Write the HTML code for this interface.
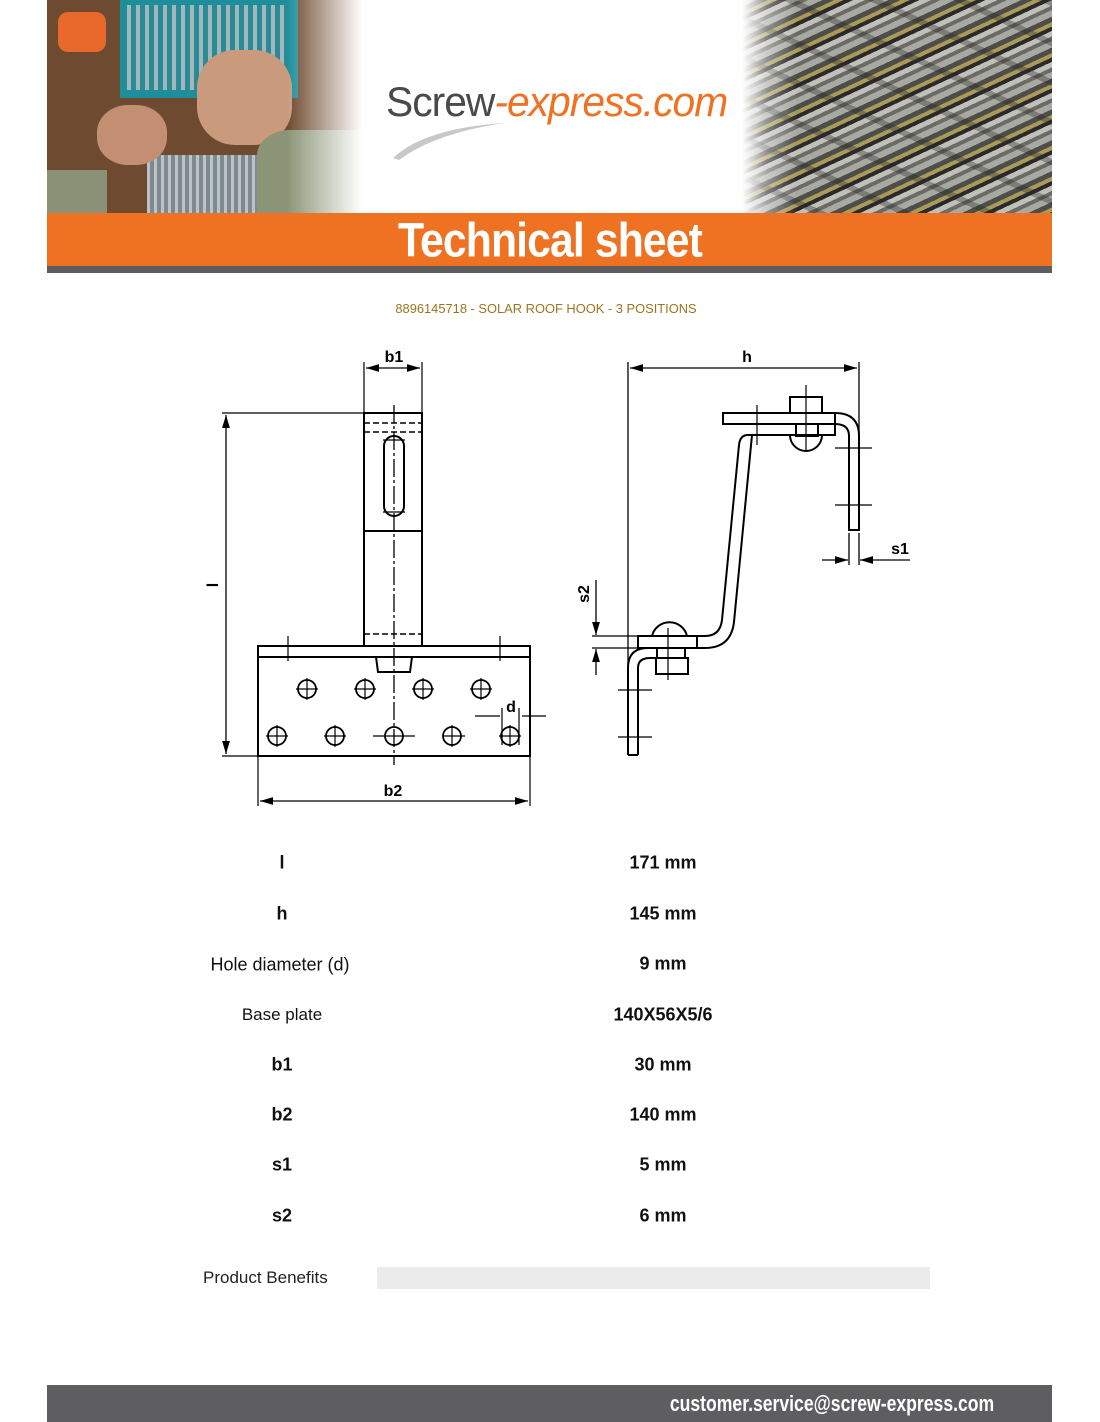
<!DOCTYPE html>
<html><head><meta charset="utf-8"><style>
*{margin:0;padding:0;box-sizing:border-box}
body{width:1100px;height:1422px;background:#fff;position:relative;overflow:hidden;font-family:"Liberation Sans",sans-serif}
.abs{position:absolute}
.row{position:absolute;font-size:18px;color:#111;transform:translate(-50%,-50%);white-space:nowrap}
.b{font-weight:bold}
</style></head><body>
<!-- left photo -->
<div class="abs" style="left:47px;top:0;width:320px;height:213px;background:#6e4a30;overflow:hidden">
 <div class="abs" style="left:73px;top:0;width:178px;height:98px;background:#1e8e9a"></div>
 <div class="abs" style="left:80px;top:5px;width:160px;height:85px;background:repeating-linear-gradient(90deg,#9fb8bd 0 4px,#2c8a95 4px 9px)"></div>
 <div class="abs" style="left:11px;top:12px;width:48px;height:40px;background:#e8692a;border-radius:10px"></div>
 <div class="abs" style="left:100px;top:155px;width:130px;height:58px;background:repeating-linear-gradient(90deg,#b9c3c8 0 3px,#7f8a90 3px 7px)"></div>
 <div class="abs" style="left:150px;top:50px;width:95px;height:95px;background:#c99a7c;border-radius:40%"></div>
 <div class="abs" style="left:50px;top:105px;width:70px;height:60px;background:#c38f72;border-radius:45%"></div>
 <div class="abs" style="left:210px;top:130px;width:110px;height:85px;background:#8c9478;border-radius:30% 0 0 0"></div>
 <div class="abs" style="left:0;top:170px;width:60px;height:43px;background:#8a9176"></div>
 <div class="abs" style="left:0;top:0;width:320px;height:213px;background:linear-gradient(90deg,rgba(255,255,255,0) 0,rgba(255,255,255,0) 240px,#fff 315px)"></div>
</div>
<!-- right photo -->
<div class="abs" style="left:742px;top:0;width:310px;height:213px;overflow:hidden;background:repeating-linear-gradient(155deg,#a9a9a4 0 6px,#4d4d4a 6px 11px,#a99a5a 11px 15px,#2a2a2a 15px 19px,#c0bfb8 19px 24px,#6a6a66 24px 28px)">
 <div class="abs" style="left:0;top:0;width:310px;height:213px;background:repeating-linear-gradient(25deg,rgba(40,40,40,0) 0 30px,rgba(40,40,40,0.35) 30px 36px)"></div>
 <div class="abs" style="left:0;top:0;width:310px;height:213px;background:linear-gradient(90deg,#fff 0,rgba(255,255,255,0.4) 25px,rgba(255,255,255,0) 55px)"></div>
</div>
<!-- logo -->
<div class="abs" style="left:386px;top:78px;font-size:42px;letter-spacing:-1px;white-space:nowrap;transform:scaleX(0.97);transform-origin:left"><span style="color:#4a4a4a">Screw</span><span style="color:#ee7222;font-style:italic">-express.com</span></div>
<svg class="abs" style="left:385px;top:118px" width="140" height="45"><path d="M8 40 Q40 10 120 5 Q50 15 14 42Z" fill="#c8c8c8"/></svg>
<!-- orange band -->
<div class="abs" style="left:47px;top:213px;width:1005px;height:54px;background:#ee7222"></div>
<div class="abs" style="left:47px;top:266px;width:1005px;height:7px;background:#5d5d5d"></div>
<div class="abs" style="left:550px;top:241px;transform:translate(-50%,-50%) scaleX(0.89);color:#fff;font-weight:bold;font-size:48px;white-space:nowrap;letter-spacing:-1px">Technical sheet</div>
<div class="abs" style="left:546px;top:309px;transform:translate(-50%,-50%) scaleX(1.03);color:#9c7420;font-size:12.5px;white-space:nowrap">8896145718 - SOLAR ROOF HOOK - 3 POSITIONS</div>
<!-- drawing -->
<svg class="abs" style="left:0;top:0" width="1100" height="1422">
<defs><marker id="a" viewBox="0 0 10 6" refX="10" refY="3" markerWidth="10" markerHeight="6" orient="auto-start-reverse"><path d="M0 0L10 3L0 6Z" fill="#000"/></marker></defs>
<g stroke="#000" fill="none" stroke-width="2">
 <rect x="364" y="413" width="58" height="233"/>
 <line x1="364" y1="531" x2="422" y2="531"/>
 <rect x="384" y="436" width="20" height="80" rx="10"/>
 <rect x="258" y="646" width="272" height="110"/>
 <line x1="258" y1="657" x2="530" y2="657"/>
 <path d="M376 657 L378 672 L410 672 L412 657"/>
</g>
<g stroke="#000" fill="none" stroke-width="1.5" stroke-dasharray="6 3">
 <line x1="364" y1="423" x2="422" y2="423"/><line x1="364" y1="432" x2="422" y2="432"/><line x1="364" y1="634" x2="422" y2="634"/>
</g>
<g stroke="#000" fill="none" stroke-width="1.3" stroke-dasharray="18 3 3 3">
 <line x1="394" y1="405" x2="394" y2="765"/>
</g>
<g stroke="#000" fill="none" stroke-width="1.8">
 <circle cx="307" cy="689" r="9"/><circle cx="365" cy="689" r="9"/><circle cx="423" cy="689" r="9"/><circle cx="481" cy="689" r="9"/>
 <circle cx="277" cy="736" r="9"/><circle cx="335" cy="736" r="9"/><circle cx="394" cy="736" r="9"/><circle cx="452" cy="736" r="9"/><circle cx="510" cy="736" r="9"/>
</g>
<g stroke="#000" stroke-width="1.2">
 <path d="M296 689h22M307 678v22M354 689h22M365 678v22M412 689h22M423 678v22M470 689h22M481 678v22"/>
 <path d="M266 736h22M277 725v22M324 736h22M335 725v22M373 736h42M443 736h22M452 725v22M499 736h22M510 725v22"/>
 <path d="M288 636v25M500 636v25M383 440h22M383 512h22"/>
 <path d="M364 362V413M422 362V413M222 413H364M222 756H258M258 756V806M530 756V806"/>
 <path d="M502 708V745M519 708V745M546 716H522M475 716H500"/>
</g>
<g stroke="#000" stroke-width="1.3" fill="none">
 <line x1="366" y1="368" x2="420" y2="368" marker-start="url(#a)" marker-end="url(#a)"/>
 <line x1="226" y1="415" x2="226" y2="754" marker-start="url(#a)" marker-end="url(#a)"/>
 <line x1="260" y1="801" x2="528" y2="801" marker-start="url(#a)" marker-end="url(#a)"/>
 <line x1="630" y1="368" x2="857" y2="368" marker-start="url(#a)" marker-end="url(#a)"/>
 <line x1="822" y1="560" x2="848" y2="560" marker-end="url(#a)"/>
 <line x1="910" y1="560" x2="860" y2="560" marker-end="url(#a)"/>
 <line x1="596" y1="580" x2="596" y2="635" marker-end="url(#a)"/>
 <line x1="596" y1="675" x2="596" y2="649" marker-end="url(#a)"/>
 <path d="M628 362V755M859 362V440M849 533V565M859 533V565M592 636H640M592 648H640"/>
</g>
<g stroke="#000" stroke-width="2" fill="none">
 <rect x="723" y="413" width="112" height="11"/>
 <path d="M835 413 Q859 413 859 436 V530 H849 V436 Q849 424 835 424"/>
 <path d="M835 424 V435 H748 Q740 435 739 445 L722 620 Q720 636 705 636 H640"/>
 <path d="M752 435 L734 622 Q731 648 705 648 H640"/>
 <rect x="638" y="636" width="59" height="12"/>
 <path d="M628 755 V668 Q628 648 648 648 M638 755 V668 Q638 658 650 658 H655 M628 755 H638"/>
 <rect x="790" y="397" width="32" height="16"/>
 <path d="M790 435 A16 16 0 0 0 822 435"/>
 <rect x="796" y="424" width="22" height="12"/>
 <path d="M652 636 A18 18 0 0 1 687 636"/>
 <rect x="657" y="648" width="28" height="10"/>
 <rect x="656" y="658" width="32" height="16"/>
</g>
<g stroke="#000" stroke-width="1.2">
 <path d="M806 385V452M668 628V680M757 405V445M835 448H872M835 505H872M618 690H652M618 737H652"/>
</g>
<g font-family="Liberation Sans,sans-serif" font-weight="bold" font-size="16" fill="#000" text-anchor="middle">
 <text x="394" y="362">b1</text>
 <text x="393" y="796">b2</text>
 <text x="511" y="712">d</text>
 <text x="747" y="362">h</text>
 <text x="900" y="554">s1</text>
 <text x="218" y="585" transform="rotate(-90 218 585)">l</text>
 <text x="589" y="594" transform="rotate(-90 589 594)">s2</text>
</g>
</svg>
<!-- table -->
<div class="row b" style="left:282px;top:863px">l</div><div class="row b" style="left:663px;top:863px">171 mm</div>
<div class="row b" style="left:282px;top:914px">h</div><div class="row b" style="left:663px;top:914px">145 mm</div>
<div class="row" style="left:280px;top:965px">Hole diameter (d)</div><div class="row b" style="left:663px;top:964px">9 mm</div>
<div class="row" style="left:282px;top:1015px;font-size:17px">Base plate</div><div class="row b" style="left:663px;top:1015px">140X56X5/6</div>
<div class="row b" style="left:282px;top:1065px">b1</div><div class="row b" style="left:663px;top:1065px">30 mm</div>
<div class="row b" style="left:282px;top:1115px">b2</div><div class="row b" style="left:663px;top:1115px">140 mm</div>
<div class="row b" style="left:282px;top:1165px">s1</div><div class="row b" style="left:663px;top:1165px">5 mm</div>
<div class="row b" style="left:282px;top:1216px">s2</div><div class="row b" style="left:663px;top:1216px">6 mm</div>
<div class="abs" style="left:203px;top:1268px;font-size:17px;color:#222">Product Benefits</div>
<div class="abs" style="left:377px;top:1267px;width:553px;height:22px;background:#ebebeb"></div>
<!-- footer -->
<div class="abs" style="left:47px;top:1385px;width:1005px;height:37px;background:#5e5e60"></div>
<div class="abs" style="left:832px;top:1404px;transform:translate(-50%,-50%) scaleX(0.8);color:#fff;font-weight:bold;font-size:22px;white-space:nowrap">customer.service@screw-express.com</div>
</body></html>
